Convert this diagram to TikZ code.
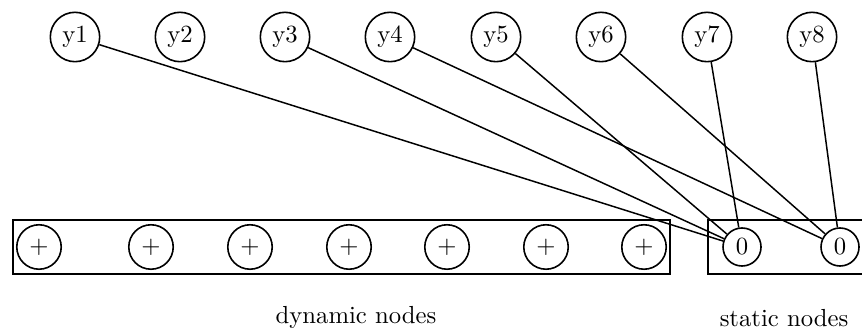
\documentclass[tikz,border=0pt]{standalone}
\begin{document}
\begin{tikzpicture}[x=0.405pt,y=-0.405pt,
  ynode/.style={draw,circle,inner sep=0pt,minimum size=20pt,line width=0.65pt},
  pnode/.style={draw,circle,inner sep=0pt,minimum size=18pt,line width=0.65pt},
  znode/.style={draw,circle,inner sep=0pt,minimum size=15.4pt,line width=0.65pt},
  grp/.style={draw,line width=0.75pt},
  edge/.style={line width=0.6pt},
  lbl/.style={anchor=base}]
\clip (0,0) rectangle (862,331);
% group boxes
\draw[grp] (13,220) rectangle (670,274);
\draw[grp] (708,220) rectangle (900,274);
% top nodes
\node[ynode] (y1) at (75,37) {y1};
\node[ynode] (y2) at (180,37) {y2};
\node[ynode] (y3) at (285,37) {y3};
\node[ynode] (y4) at (390,37) {y4};
\node[ynode] (y5) at (496,37) {y5};
\node[ynode] (y6) at (601,37) {y6};
\node[ynode] (y7) at (707,37) {y7};
\node[ynode] (y8) at (812,37) {y8};
% dynamic nodes
\node[pnode] (d1) at (39,247) {$+$};
\node[pnode] (d2) at (151,247) {$+$};
\node[pnode] (d3) at (250,247) {$+$};
\node[pnode] (d4) at (349,247) {$+$};
\node[pnode] (d5) at (447,247) {$+$};
\node[pnode] (d6) at (546,247) {$+$};
\node[pnode] (d7) at (644,247) {$+$};
% static nodes
\node[znode] (s1) at (742,247) {0};
\node[znode] (s2) at (840,247) {0};
% edges
\draw[edge] (y1) -- (s1);
\draw[edge] (y3) -- (s1);
\draw[edge] (y5) -- (s1);
\draw[edge] (y7) -- (s1);
\draw[edge] (y4) -- (s2);
\draw[edge] (y6) -- (s2);
\draw[edge] (y8) -- (s2);
% labels
\node[lbl] (ldyn) at (356,324) {dynamic nodes};
\node[lbl] (lsta) at (784,327) {static nodes};
\end{tikzpicture}
\end{document}
